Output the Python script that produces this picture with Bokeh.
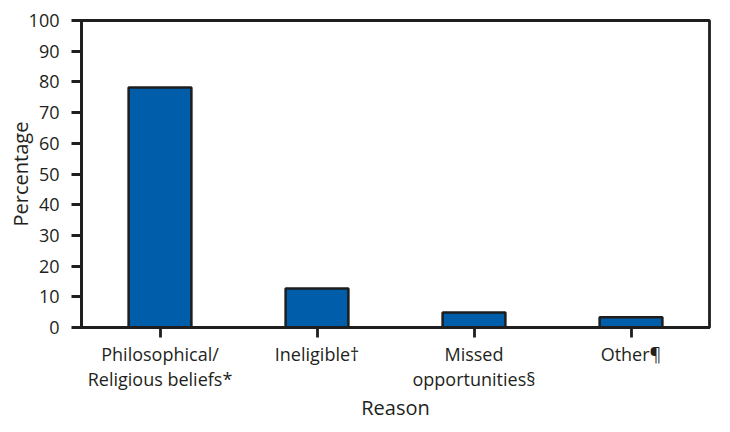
from bokeh.plotting import figure
from bokeh.embed import file_html
from bokeh.resources import INLINE
from bokeh.models import ColumnDataSource, FixedTicker

categories = ["Philosophical/\nReligious beliefs*", "Ineligible\u2020", "Missed\nopportunities\u00a7", "Other\u00b6"]
values = [78.2, 12.7, 4.9, 3.3]
y_ticks = [0, 10, 20, 30, 40, 50, 60, 70, 80, 90, 100]

src = ColumnDataSource(dict(cat=categories, val=values))

FONT = "Open Sans"
TXT = "#231f20"

p = figure(x_range=categories, y_range=(0, 100), width=716, height=424,
           output_backend="svg", toolbar_location=None,
           min_border_left=81, min_border_right=7, min_border_top=20, min_border_bottom=97)

p.vbar(x="cat", top="val", width=0.4, source=src, fill_color="#005DAA",
       line_color="#1e1e1e", line_width=2.5)

p.xgrid.grid_line_color = None
p.ygrid.grid_line_color = None
p.outline_line_color = "#1e1e1e"
p.outline_line_width = 2.8

p.yaxis.ticker = FixedTicker(ticks=y_ticks)
for ax in (p.xaxis[0], p.yaxis[0]):
    ax.axis_line_color = "#1e1e1e"
    ax.axis_line_width = 2.8
    ax.major_tick_line_color = "#1e1e1e"
    ax.major_tick_line_width = 2.8
    ax.major_tick_in = 0
    ax.major_tick_out = 10
    ax.minor_tick_line_color = None
    ax.major_label_text_font = FONT
    ax.major_label_text_font_size = "18px"
    ax.major_label_text_color = TXT
    ax.axis_label_text_font = FONT
    ax.axis_label_text_font_size = "20px"
    ax.axis_label_text_font_style = "normal"
    ax.axis_label_text_color = TXT

p.xaxis.major_label_text_line_height = 1.05
p.yaxis.axis_label = "Percentage"
p.xaxis.axis_label = "Reason"
p.yaxis.major_label_standoff = 12
p.xaxis.major_label_standoff = 4
p.xaxis.axis_label_standoff = 0
p.yaxis.axis_label_standoff = -8

open("out.html", "w").write(file_html(p, INLINE))
